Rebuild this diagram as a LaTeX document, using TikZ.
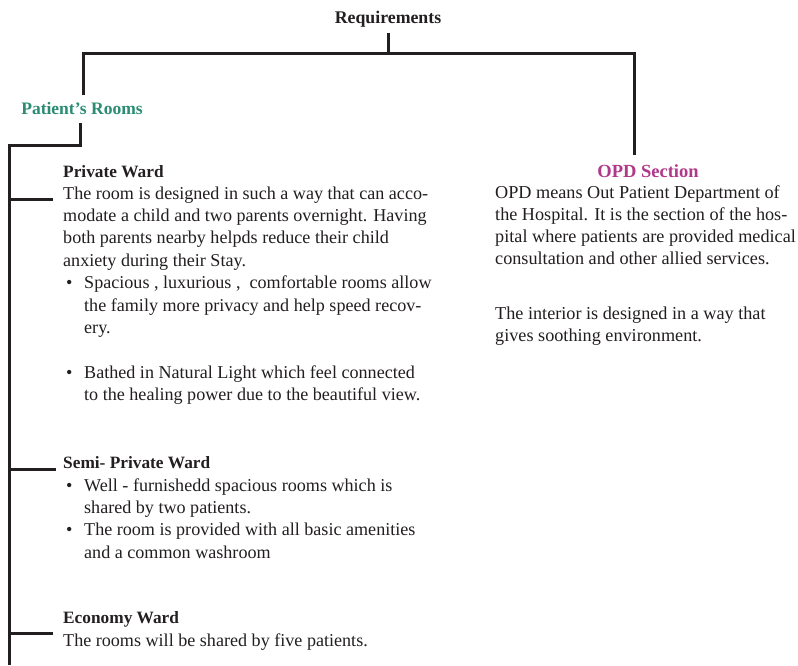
\documentclass[tikz,border=0pt]{standalone}
\usepackage{fontspec}
\setmainfont{Liberation Serif}
\definecolor{ink}{HTML}{231F20}
\definecolor{teal}{HTML}{2A8C72}
\definecolor{opdpink}{HTML}{B0398A}
\newcommand{\bul}{\makebox[21pt][l]{\hspace{3pt}\textbullet}}
\newcommand{\ind}{\hspace*{21pt}}
\begin{document}
\begin{tikzpicture}[x=1pt,y=-1pt,
  conn/.style={draw=ink,line width=3pt,line join=miter},
  headtxt/.style={font=\fontsize{17.8}{20}\selectfont\bfseries,text=ink,inner sep=0pt,anchor=base},
  wardhead/.style={font=\fontsize{17.3}{20}\selectfont\bfseries,text=ink,inner sep=0pt,anchor=base west},
  bodytxt/.style={font=\fontsize{18.1}{22.4}\selectfont,text=ink,inner sep=0pt,anchor=base west,align=left},
  opdtxt/.style={font=\fontsize{18.2}{22}\selectfont,text=ink,inner sep=0pt,anchor=base west,align=left}]
\useasboundingbox (0,0) rectangle (798,665);
\fill[white] (0,0) rectangle (798,665);
% headings
\node[headtxt] (req) at (388,23) {Requirements};
\node[headtxt,text=teal,font=\fontsize{17.5}{20}\selectfont\bfseries] (pr) at (82,114) {Patient’s Rooms};
\node[headtxt,text=opdpink,font=\fontsize{18.5}{20}\selectfont\bfseries] (opd) at (648,177) {OPD Section};
% connectors
\coordinate (bar) at (388,53);
\coordinate (barL) at (83,53);
\coordinate (barR) at (634,53);
\coordinate (prTop) at (83,95);
\coordinate (opdTop) at (634,155);
\coordinate (prBot) at (80,123);
\coordinate (tTop) at (9,145);
\coordinate (tBot) at (9,665);
\draw[conn] ([yshift=-10pt]req.base) -- (bar);
\draw[conn] (prTop) -- (barL) -- (barR) -- (opdTop);
\draw[conn] (prBot) |- (tTop) -- (tBot);
% Private ward
\node[wardhead] (pw) at (63,177) {Private Ward};
\node[bodytxt] (pwb) at (63,400.6) {The room is designed in such a way that can acco-\\
modate a child and two parents overnight. Having\\
both parents nearby helpds reduce their child\\
anxiety during their Stay.\\
\bul Spacious , luxurious ,\ \ comfortable rooms allow\\
\ind the family more privacy and help speed recov-\\
\ind ery.\\[22.4pt]
\bul Bathed in Natural Light which feel connected\\
\ind to the healing power due to the beautiful view.};
\coordinate (b1a) at (9,199);
\coordinate (b1b) at (53,199);
\draw[conn] (b1a) -- (b1b);
% Semi-private
\node[wardhead] (spw) at (63,468) {Semi- Private Ward};
\node[bodytxt] (spwb) at (63,558.2) {\bul Well - furnishedd spacious rooms which is\\
\ind shared by two patients.\\
\bul The room is provided with all basic amenities\\
\ind and a common washroom};
\coordinate (b2a) at (9,469);
\coordinate (b2b) at (56,469);
\draw[conn] (b2a) -- (b2b);
% Economy
\node[wardhead] (ew) at (63,623) {Economy Ward};
\node[bodytxt] (ewb) at (63,646) {The rooms will be shared by five patients.};
\coordinate (b3a) at (9,633);
\coordinate (b3b) at (53,633);
\draw[conn] (b3a) -- (b3b);
% OPD
\node[opdtxt] (opdb) at (495,264) {OPD means Out Patient Department of\\
the Hospital. It is the section of the hos-\\
pital where patients are provided medical\\
consultation and other allied services.};
\node[opdtxt] (opdb2) at (495,341) {The interior is designed in a way that\\
gives soothing environment.};
\end{tikzpicture}
\end{document}
